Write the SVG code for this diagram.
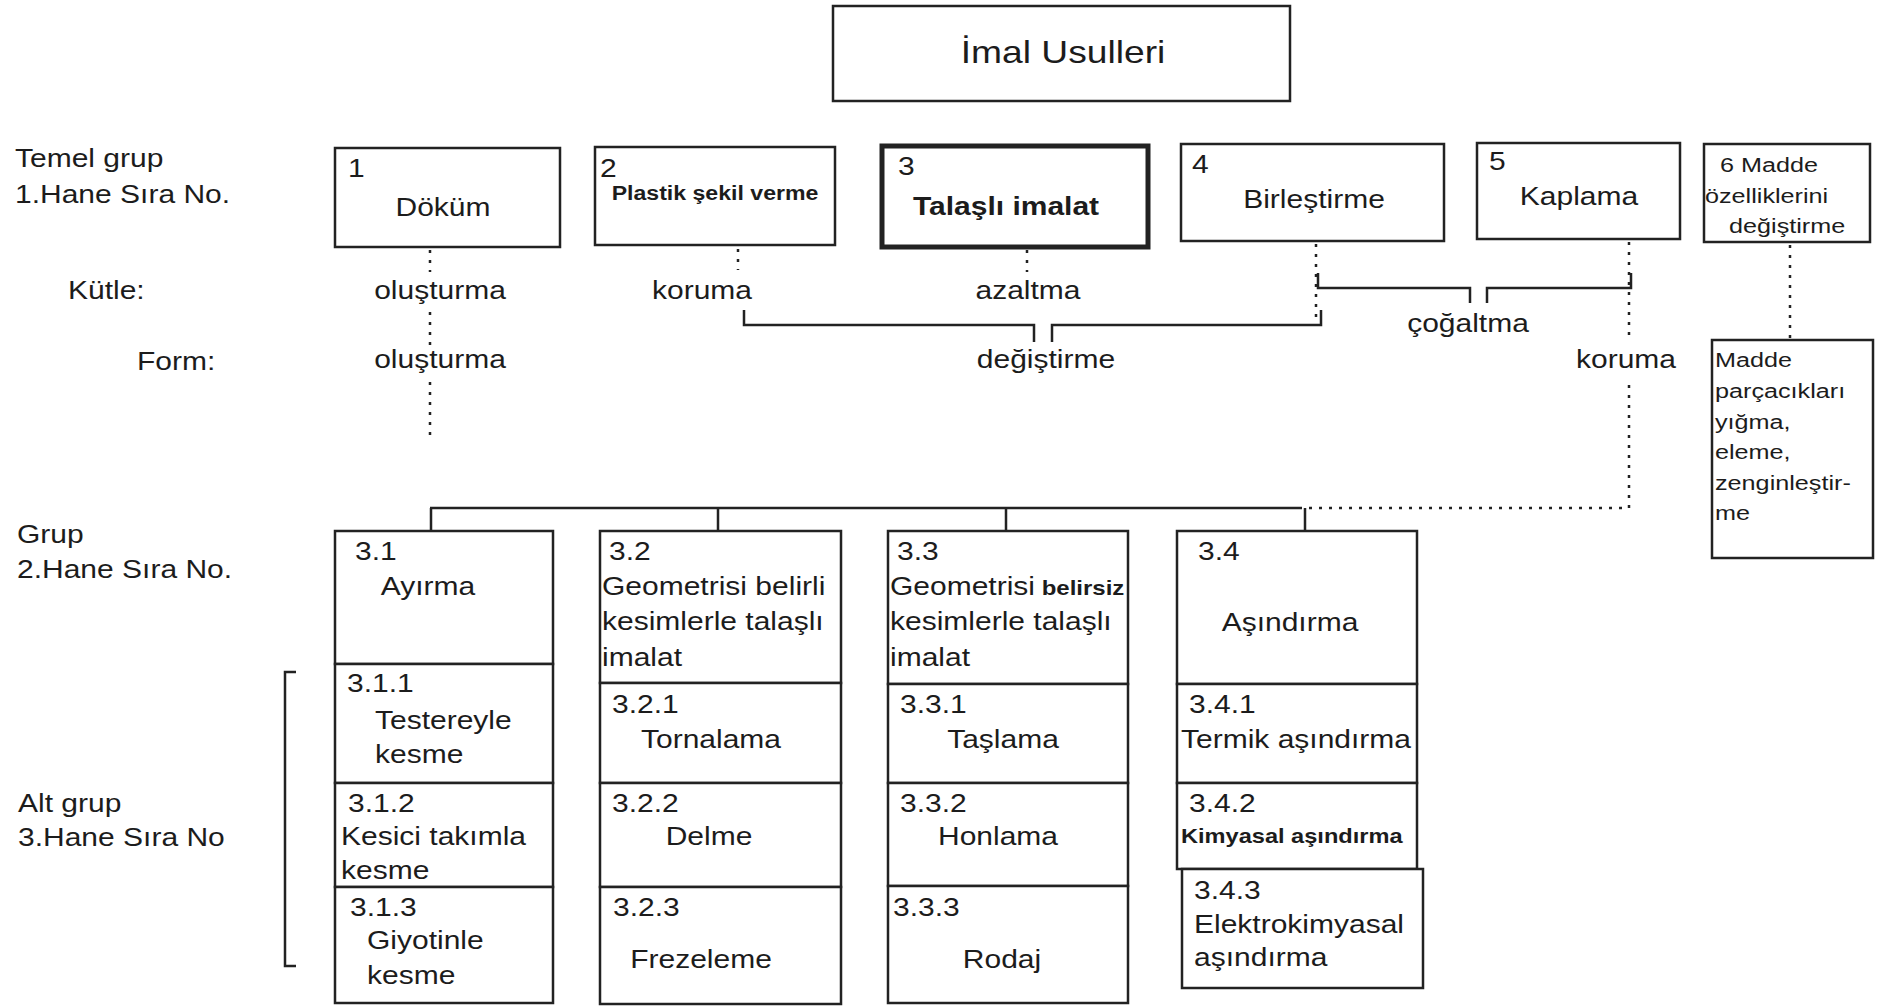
<svg xmlns="http://www.w3.org/2000/svg" width="1892" height="1006" viewBox="0 0 1892 1006">
<style>
.t{font-family:"Liberation Sans",Arial,sans-serif;font-size:25px;fill:#1c1c1c}
.s{font-size:21px}
.k{font-size:20px;font-weight:bold}
.bd{font-weight:bold}
.ttl{font-size:31px}
.m{text-anchor:middle}
.box{fill:#fff;stroke:#222;stroke-width:2.5}
.thick{stroke-width:5}
.ln{fill:none;stroke:#222;stroke-width:2.5}
.dt{fill:none;stroke:#222;stroke-width:2.5;stroke-dasharray:3 7}
</style>
<rect width="1892" height="1006" fill="#fff"/>

<g id="connectors">
  <path class="ln" d="M430 508H1301M431 508V531M718 508V531M1006 508V531M1305 508V531"/>
  <path class="ln" d="M744 310V325H1034V342M1052 342V325H1321V310"/>
  <path class="ln" d="M1318 273V288H1470V303M1487 303V288H1631V273"/>
  <path class="dt" d="M430 250V272M430 312V345M430 382V440"/>
  <path class="dt" d="M738 249V270"/>
  <path class="dt" d="M1027 250V272"/>
  <path class="dt" d="M1316 244V322"/>
  <path class="dt" d="M1629 242V340M1629 385V508H1301"/>
  <path class="dt" d="M1790 245V340"/>
</g>

<g id="labels">
  <text class="t" transform="translate(15 167) scale(1.2 1)">Temel grup</text>
  <text class="t" transform="translate(15 203) scale(1.2 1)">1.Hane Sıra No.</text>
  <text class="t" transform="translate(68 299) scale(1.2 1)">Kütle:</text>
  <text class="t" transform="translate(137 370) scale(1.2 1)">Form:</text>
  <text class="t" transform="translate(17 543) scale(1.2 1)">Grup</text>
  <text class="t" transform="translate(17 578) scale(1.2 1)">2.Hane Sıra No.</text>
  <text class="t" transform="translate(18 812) scale(1.2 1)">Alt grup</text>
  <text class="t" transform="translate(18 846) scale(1.2 1)">3.Hane Sıra No</text>
  <path class="ln" d="M296 672H285V966H296"/>
  <text class="t m" transform="translate(440 299) scale(1.2 1)">oluşturma</text>
  <text class="t m" transform="translate(702 299) scale(1.2 1)">koruma</text>
  <text class="t m" transform="translate(1028 299) scale(1.2 1)">azaltma</text>
  <text class="t m" transform="translate(440 368) scale(1.2 1)">oluşturma</text>
  <text class="t m" transform="translate(1046 368) scale(1.2 1)">değiştirme</text>
  <text class="t m" transform="translate(1468 332) scale(1.2 1)">çoğaltma</text>
  <text class="t m" transform="translate(1626 368) scale(1.2 1)">koruma</text>
</g>

<g id="n-imal-usulleri">
  <rect class="box" x="833" y="6" width="457" height="95"/>
  <text class="t ttl m" transform="translate(1063 63) scale(1.2 1)">İmal Usulleri</text>
</g>

<g id="n1">
  <rect class="box" x="335" y="148" width="225" height="99"/>
  <text class="t" transform="translate(348 177) scale(1.2 1)">1</text>
  <text class="t m" transform="translate(443 216) scale(1.2 1)">Döküm</text>
</g>
<g id="n2">
  <rect class="box" x="595" y="147" width="240" height="98"/>
  <text class="t" transform="translate(600 177) scale(1.2 1)">2</text>
  <text class="t s bd m" transform="translate(715 200) scale(1.1 1)">Plastik şekil verme</text>
</g>
<g id="n3">
  <rect class="box thick" x="882" y="146" width="266" height="101"/>
  <text class="t" transform="translate(898 175) scale(1.2 1)">3</text>
  <text class="t bd m" transform="translate(1006 215) scale(1.2 1)">Talaşlı imalat</text>
</g>
<g id="n4">
  <rect class="box" x="1181" y="144" width="263" height="97"/>
  <text class="t" transform="translate(1192 173) scale(1.2 1)">4</text>
  <text class="t m" transform="translate(1314 208) scale(1.2 1)">Birleştirme</text>
</g>
<g id="n5">
  <rect class="box" x="1477" y="143" width="203" height="96"/>
  <text class="t" transform="translate(1489 170) scale(1.2 1)">5</text>
  <text class="t m" transform="translate(1579 205) scale(1.2 1)">Kaplama</text>
</g>
<g id="n6">
  <rect class="box" x="1704" y="144" width="166" height="98"/>
  <text class="t s" transform="translate(1720 172) scale(1.2 1)">6 Madde</text>
  <text class="t s" transform="translate(1705 203) scale(1.2 1)">özelliklerini</text>
  <text class="t s" transform="translate(1729 233) scale(1.2 1)">değiştirme</text>
</g>
<g id="n6-detail">
  <rect class="box" x="1712" y="340" width="161" height="218"/>
  <text class="t s" transform="translate(1715 367) scale(1.2 1)"><tspan x="0">Madde</tspan><tspan x="0" dy="31">parçacıkları</tspan><tspan x="0" dy="31">yığma,</tspan><tspan x="0" dy="30">eleme,</tspan><tspan x="0" dy="31">zenginleştir-</tspan><tspan x="0" dy="30">me</tspan></text>
</g>

<g id="n3-1">
  <rect class="box" x="335" y="531" width="218" height="133"/>
  <text class="t" transform="translate(355 560) scale(1.2 1)">3.1</text>
  <text class="t m" transform="translate(428 595) scale(1.2 1)">Ayırma</text>
</g>
<g id="n3-1-1">
  <rect class="box" x="335" y="664" width="218" height="119"/>
  <text class="t" transform="translate(347 692) scale(1.2 1)">3.1.1</text>
  <text class="t" transform="translate(375 729) scale(1.2 1)"><tspan x="0">Testereyle</tspan><tspan x="0" dy="34">kesme</tspan></text>
</g>
<g id="n3-1-2">
  <rect class="box" x="335" y="783" width="218" height="104"/>
  <text class="t" transform="translate(348 812) scale(1.2 1)">3.1.2</text>
  <text class="t" transform="translate(341 845) scale(1.2 1)"><tspan x="0">Kesici takımla</tspan><tspan x="0" dy="34">kesme</tspan></text>
</g>
<g id="n3-1-3">
  <rect class="box" x="335" y="887" width="218" height="116"/>
  <text class="t" transform="translate(350 916) scale(1.2 1)">3.1.3</text>
  <text class="t" transform="translate(367 949) scale(1.2 1)"><tspan x="0">Giyotinle</tspan><tspan x="0" dy="35">kesme</tspan></text>
</g>

<g id="n3-2">
  <rect class="box" x="600" y="531" width="241" height="152"/>
  <text class="t" transform="translate(609 560) scale(1.2 1)">3.2</text>
  <text class="t" transform="translate(602 595) scale(1.2 1)"><tspan x="0">Geometrisi belirli</tspan><tspan x="0" dy="35.5">kesimlerle talaşlı</tspan><tspan x="0" dy="35.5">imalat</tspan></text>
</g>
<g id="n3-2-1">
  <rect class="box" x="600" y="683" width="241" height="100"/>
  <text class="t" transform="translate(612 713) scale(1.2 1)">3.2.1</text>
  <text class="t m" transform="translate(711 748) scale(1.2 1)">Tornalama</text>
</g>
<g id="n3-2-2">
  <rect class="box" x="600" y="783" width="241" height="104"/>
  <text class="t" transform="translate(612 812) scale(1.2 1)">3.2.2</text>
  <text class="t m" transform="translate(709 845) scale(1.2 1)">Delme</text>
</g>
<g id="n3-2-3">
  <rect class="box" x="600" y="887" width="241" height="117"/>
  <text class="t" transform="translate(613 916) scale(1.2 1)">3.2.3</text>
  <text class="t m" transform="translate(701 968) scale(1.2 1)">Frezeleme</text>
</g>

<g id="n3-3">
  <rect class="box" x="888" y="531" width="240" height="153"/>
  <text class="t" transform="translate(897 560) scale(1.2 1)">3.3</text>
  <text class="t" transform="translate(890 595) scale(1.2 1)"><tspan x="0">Geometrisi</tspan><tspan class="k"> belirsiz</tspan><tspan x="0" dy="35.5">kesimlerle talaşlı</tspan><tspan x="0" dy="35.5">imalat</tspan></text>
</g>
<g id="n3-3-1">
  <rect class="box" x="888" y="684" width="240" height="99"/>
  <text class="t" transform="translate(900 713) scale(1.2 1)">3.3.1</text>
  <text class="t m" transform="translate(1003 748) scale(1.2 1)">Taşlama</text>
</g>
<g id="n3-3-2">
  <rect class="box" x="888" y="783" width="240" height="103"/>
  <text class="t" transform="translate(900 812) scale(1.2 1)">3.3.2</text>
  <text class="t m" transform="translate(998 845) scale(1.2 1)">Honlama</text>
</g>
<g id="n3-3-3">
  <rect class="box" x="888" y="886" width="240" height="117"/>
  <text class="t" transform="translate(893 916) scale(1.2 1)">3.3.3</text>
  <text class="t m" transform="translate(1002 968) scale(1.2 1)">Rodaj</text>
</g>

<g id="n3-4">
  <rect class="box" x="1177" y="531" width="240" height="153"/>
  <text class="t" transform="translate(1198 560) scale(1.2 1)">3.4</text>
  <text class="t m" transform="translate(1290 631) scale(1.2 1)">Aşındırma</text>
</g>
<g id="n3-4-1">
  <rect class="box" x="1177" y="684" width="240" height="99"/>
  <text class="t" transform="translate(1189 713) scale(1.2 1)">3.4.1</text>
  <text class="t" transform="translate(1181 748) scale(1.2 1)">Termik aşındırma</text>
</g>
<g id="n3-4-2">
  <rect class="box" x="1177" y="783" width="240" height="86"/>
  <text class="t" transform="translate(1189 812) scale(1.2 1)">3.4.2</text>
  <text class="t k" transform="translate(1181 843) scale(1.18 1)">Kimyasal aşındırma</text>
</g>
<g id="n3-4-3">
  <rect class="box" x="1182" y="869" width="241" height="119"/>
  <text class="t" transform="translate(1194 899) scale(1.2 1)">3.4.3</text>
  <text class="t" transform="translate(1194 933) scale(1.2 1)"><tspan x="0">Elektrokimyasal</tspan><tspan x="0" dy="33">aşındırma</tspan></text>
</g>
</svg>
